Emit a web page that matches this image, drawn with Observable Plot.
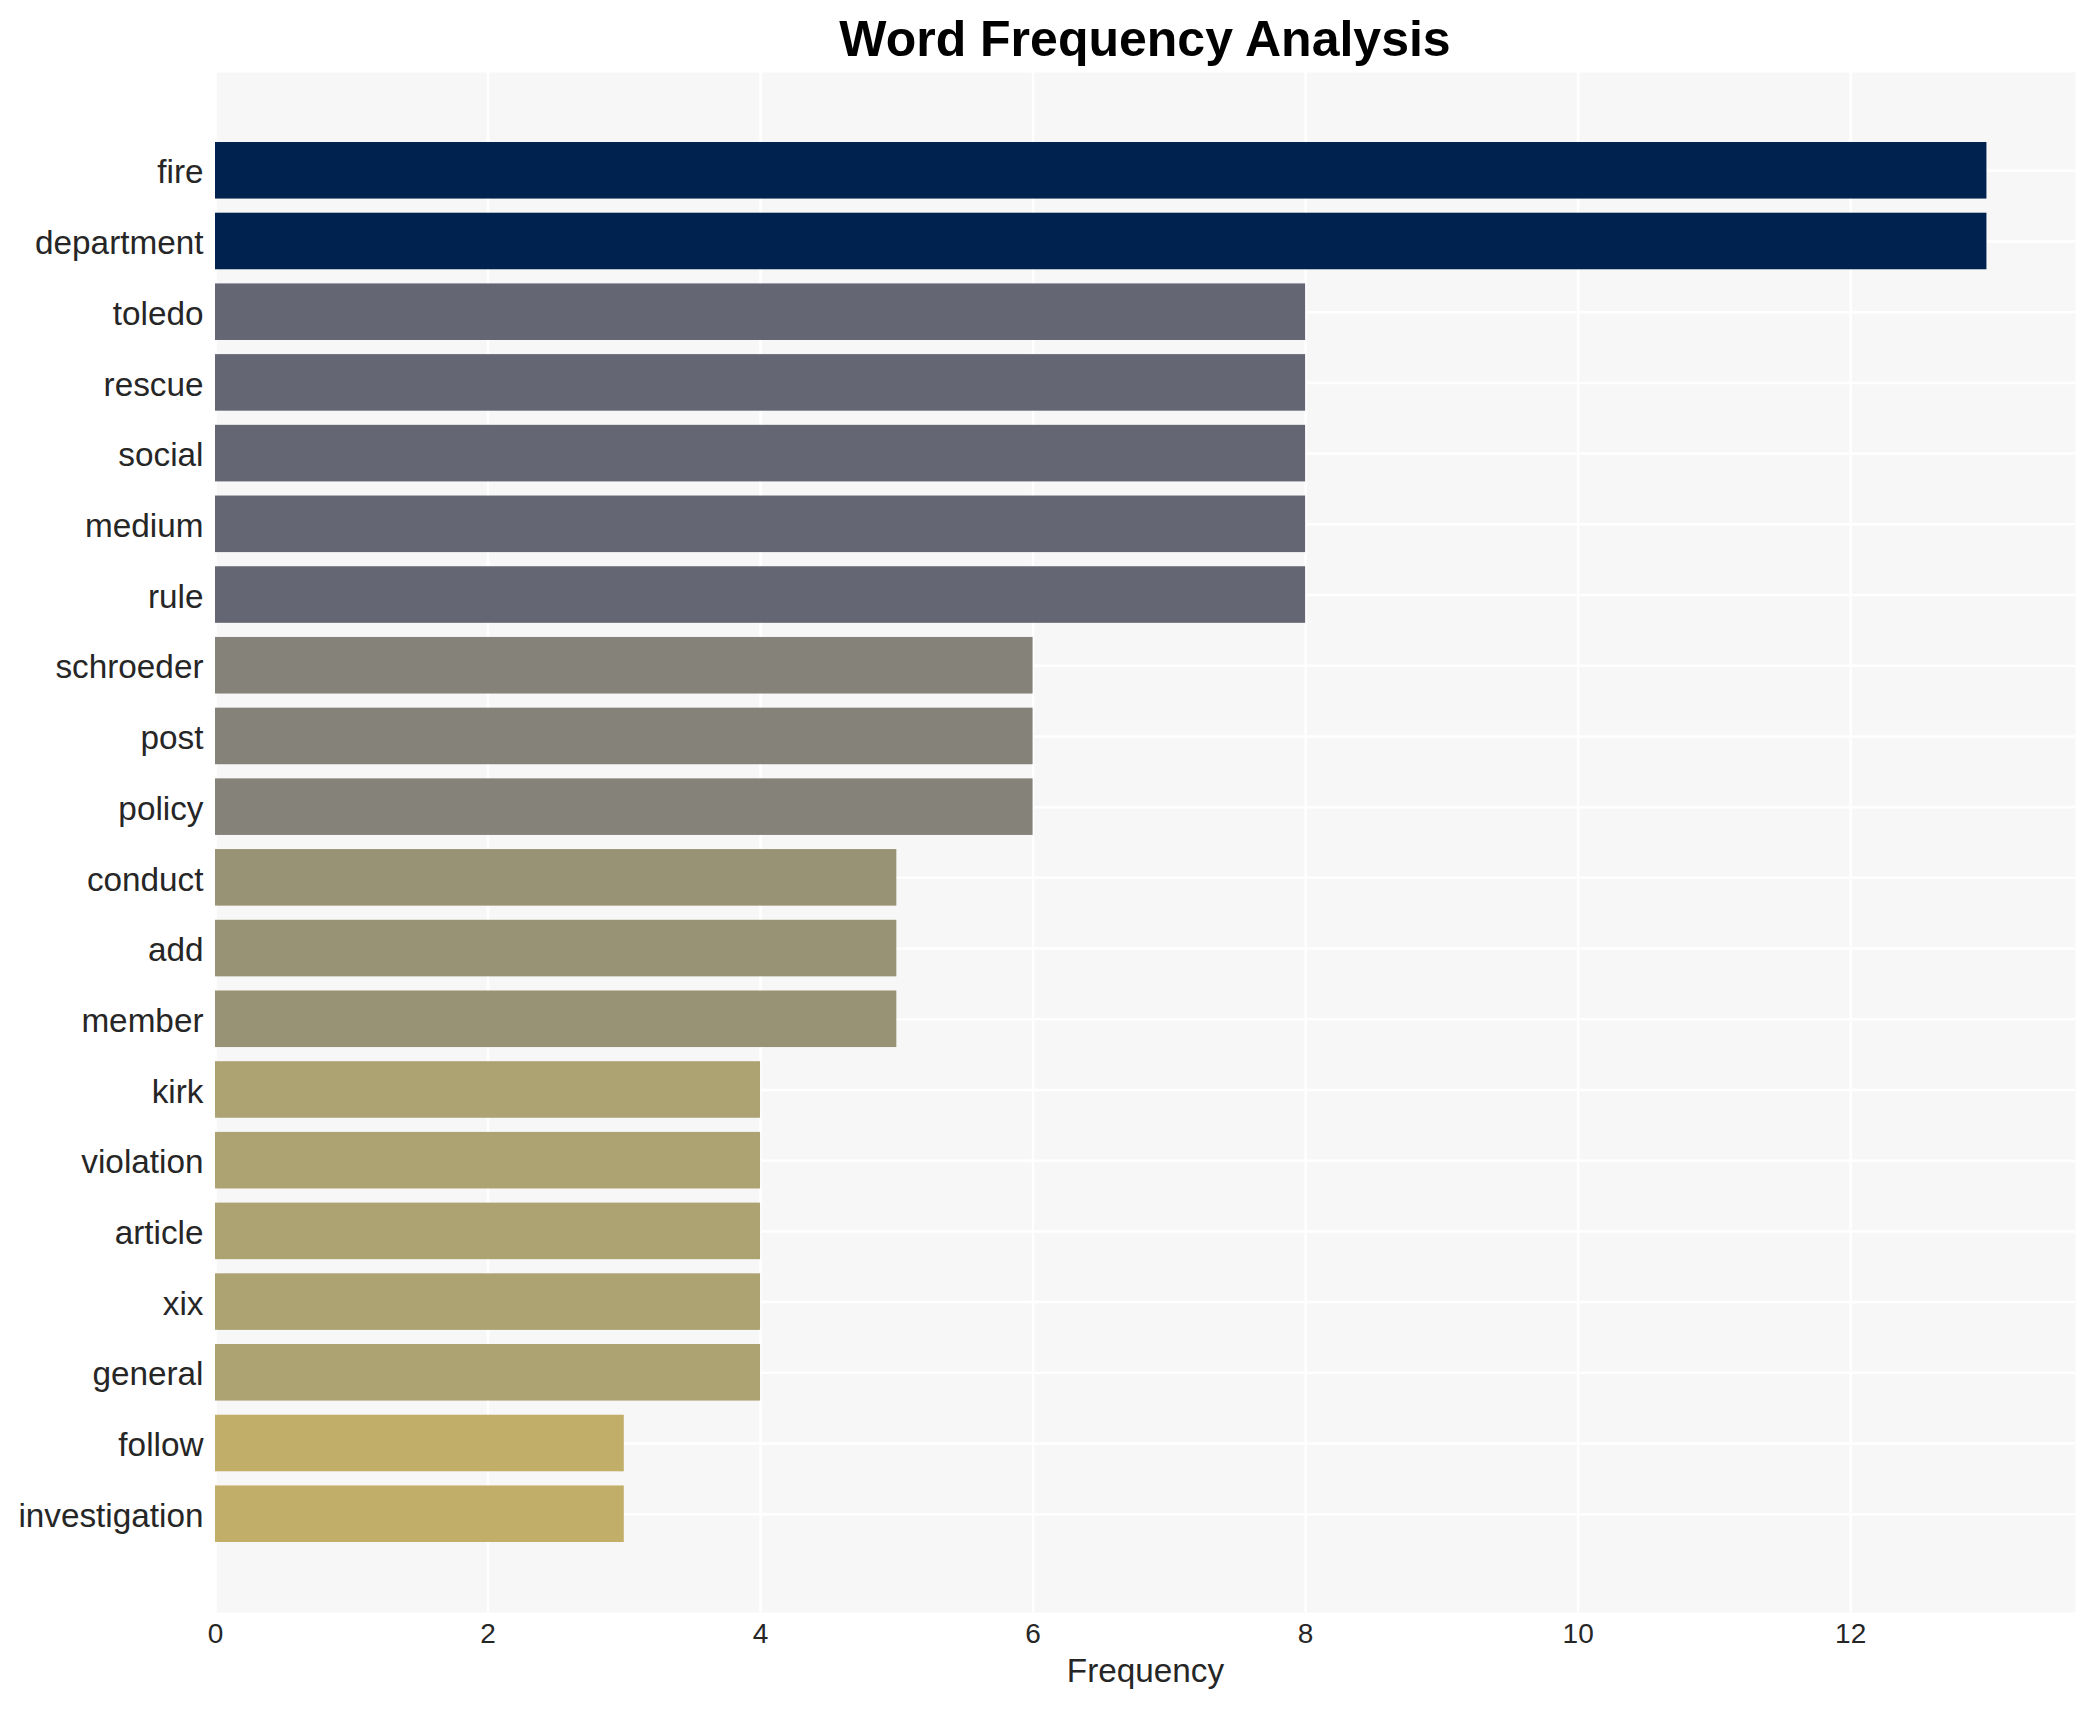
<!DOCTYPE html>
<html>
<head>
<meta charset="utf-8">
<script src="https://cdn.jsdelivr.net/npm/d3@7"></script>
<script src="https://cdn.jsdelivr.net/npm/@observablehq/plot@0.6"></script>
<style>
  html, body { margin: 0; padding: 0; background: #ffffff; }
  #title {
    box-sizing: border-box;
    height: 71px;
    margin-left: 215px;
    width: 1860px;
    padding-top: 14px;
    text-align: center;
    font: bold 50px "Liberation Sans", Arial, sans-serif;
    line-height: 1;
    color: #000000;
  }
</style>
</head>
<body>
<div id="title">Word Frequency Analysis</div>
<div id="chart"></div>
<script>
const words = ["fire", "department", "toledo", "rescue", "social", "medium", "rule",
  "schroeder", "post", "policy", "conduct", "add", "member", "kirk", "violation",
  "article", "xix", "general", "follow", "investigation"];
const counts = [13, 13, 8, 8, 8, 8, 8, 6, 6, 6, 5, 5, 5, 4, 4, 4, 4, 4, 3, 3];
const xTicks = [0, 2, 4, 6, 8, 10, 12];
const xLabel = "Frequency";
const palette = ["#00224f", "#646673", "#858279", "#999375", "#ada272", "#c1af69"];

const data = words.map((w, i) => ({word: w, count: counts[i]}));
const levels = Array.from(new Set(counts)).sort((a, b) => b - a);

const chart = Plot.plot({
  width: 2095,
  height: 1639,
  marginTop: 1,
  marginLeft: 215,
  marginRight: 20,
  marginBottom: 98,
  style: {fontFamily: "'Liberation Sans', Arial, sans-serif", background: "#ffffff"},
  x: {domain: [0, 13.65], ticks: xTicks},
  y: {domain: words, type: "band", paddingInner: 0.2, paddingOuter: 0.99, round: false},
  color: {type: "ordinal", domain: levels, range: palette},
  marks: [
    Plot.frame({fill: "#f7f7f7", stroke: null}),
    Plot.gridX(xTicks, {stroke: "#ffffff", strokeOpacity: 1, strokeWidth: 2.5}),
    Plot.gridY(words, {stroke: "#ffffff", strokeOpacity: 1, strokeWidth: 2.5}),
    Plot.barX(data, {x: "count", y: "word", fill: "count"}),
    Plot.axisX(xTicks, {tickSize: 0, tickPadding: 11, fontSize: 28, fill: "#262626", label: null, tickFormat: (d) => String(d)}),
    Plot.axisY(words, {tickSize: 0, tickPadding: 12, fontSize: 33.3, fill: "#262626", label: null, dy: 2}),
    Plot.text([xLabel], {frameAnchor: "bottom", dy: 69, fontSize: 33.3, fill: "#262626"})
  ]
});
document.getElementById("chart").appendChild(chart);
</script>
</body>
</html>
